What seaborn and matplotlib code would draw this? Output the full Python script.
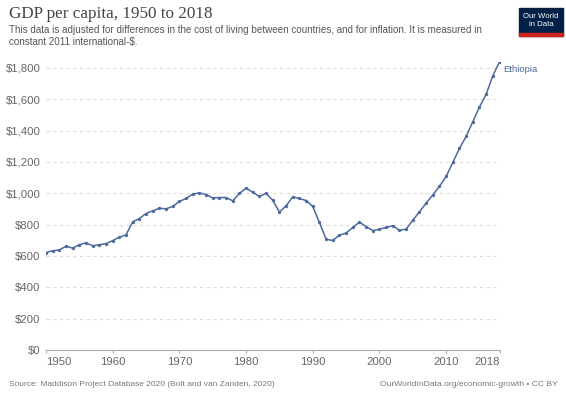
import matplotlib
matplotlib.use("Agg")
import matplotlib.pyplot as plt
from matplotlib.patches import Rectangle
import seaborn as sns
import pandas as pd

# GDP per capita, Ethiopia
years = list(range(1950, 2019))
gdp = [622, 633, 639, 662, 650, 672, 684, 665, 672, 679,
       698, 720, 735, 818, 839, 871, 888, 905, 901, 916,
       948, 967, 995, 1003, 992, 971, 973, 973, 952, 999,
       1033, 1007, 980, 999, 956, 880, 920, 978, 967, 954,
       916, 814, 707, 699, 733, 746, 782, 816, 788, 762,
       771, 782, 793, 764, 771, 828, 882, 937, 990, 1044,
       1108, 1197, 1287, 1363, 1457, 1551, 1632, 1751, 1838]
country = "Ethiopia"
ytick_vals = [0, 200, 400, 600, 800, 1000, 1200, 1400, 1600, 1800]
xtick_vals = [1950, 1960, 1970, 1980, 1990, 2000, 2010, 2018]

df = pd.DataFrame({"year": years, "gdp": gdp})

sns.set_style("white")
plt.rcParams["font.family"] = ["Liberation Sans", "DejaVu Sans"]

line_col = "#4C6A9C"
grey = "#666666"

fig = plt.figure(figsize=(5.66, 4.0), dpi=100)
ax = fig.add_axes([46 / 566, 1 - 350 / 400, (499.5 - 46) / 566, (350 - 62) / 400])

sns.lineplot(data=df, x="year", y="gdp", ax=ax, color=line_col, lw=1.1,
             marker="o", markersize=2.4, markeredgewidth=0)

ax.set_xlim(1950, 2018)
ax.set_ylim(0, 1838)
ax.set_xlabel("")
ax.set_ylabel("")

for v in ytick_vals[1:]:
    ax.axhline(v, color="#dddddd", lw=0.8, ls=(0, (3, 3)), zorder=0)

for s in ["top", "right", "left"]:
    ax.spines[s].set_visible(False)
ax.spines["bottom"].set_color("#aaaaaa")
ax.spines["bottom"].set_linewidth(0.8)

ax.set_yticks(ytick_vals)
ax.set_yticklabels(["$" + format(v, ",") for v in ytick_vals])
ax.tick_params(axis="y", length=0, pad=4, labelsize=8.2, labelcolor=grey)
ax.set_xticks(xtick_vals)
ax.set_xticklabels([str(v) for v in xtick_vals])
ax.tick_params(axis="x", length=2.5, width=0.8, color="#aaaaaa", pad=2.5,
               labelsize=8.2, labelcolor=grey, bottom=True)
xl = ax.get_xticklabels()
xl[0].set_ha("left")
xl[-1].set_ha("right")

ax.text(years[-1] + 0.6, gdp[-1] - 45, country, color=line_col, fontsize=6.8,
        ha="left", va="center", clip_on=False)

fig.text(9 / 566, 1 - 14 / 400, "GDP per capita, 1950 to 2018",
         family=["Liberation Serif", "DejaVu Serif"], fontsize=12.3,
         color="#444444", va="center")
fig.text(9 / 566, 1 - 36 / 400,
         "This data is adjusted for differences in the cost of living between countries, and for inflation. It is measured in\nconstant 2011 international-$.",
         fontsize=7.15, color="#555555", va="center", linespacing=1.3)
fig.text(9 / 566, 1 - 384 / 400,
         "Source: Maddison Project Database 2020 (Bolt and van Zanden, 2020)",
         fontsize=6.05, color="#777777", va="center")
fig.text(558 / 566, 1 - 384 / 400,
         "OurWorldInData.org/economic-growth \u2022 CC BY",
         fontsize=6.1, color="#777777", va="center", ha="right")

# logo
fig.patches.append(Rectangle((519 / 566, 1 - 36 / 400), 44 / 566, 28 / 400,
                             transform=fig.transFigure, color="#002147"))
fig.patches.append(Rectangle((519 / 566, 1 - 36 / 400), 44 / 566, 3 / 400,
                             transform=fig.transFigure, color="#ce261e"))
fig.text(541 / 566, 1 - 20.5 / 400, "Our World\nin Data", color="white",
         fontsize=5.6, ha="center", va="center", linespacing=1.1)

fig.savefig("out.png", dpi=100)
